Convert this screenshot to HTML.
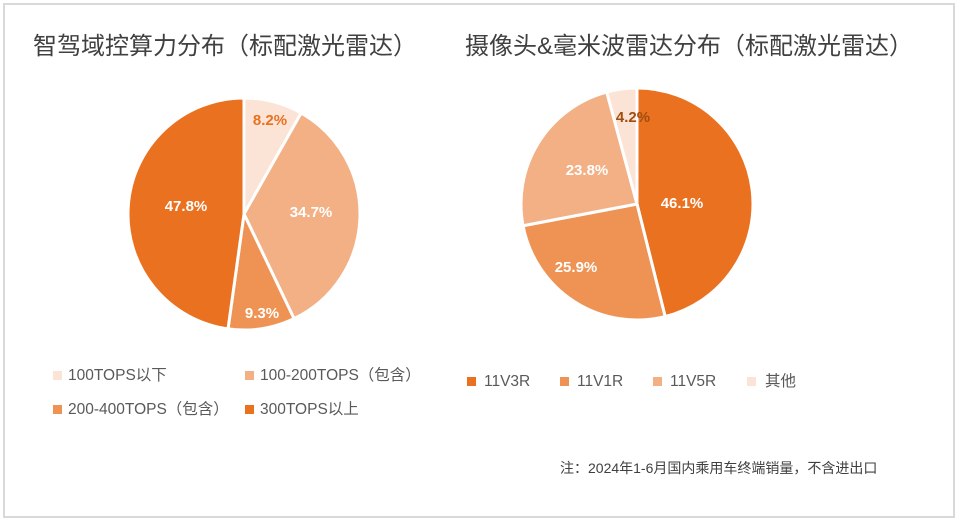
<!DOCTYPE html>
<html><head><meta charset="utf-8"><style>
body{margin:0;width:957px;height:520px;background:#fff;overflow:hidden;font-family:"Liberation Sans","Noto Sans CJK SC",sans-serif;}
#b{position:absolute;left:3px;top:3px;width:948px;height:511px;border:2px solid #d9d9d9;}
.t{position:absolute;font-size:24px;color:#404040;white-space:nowrap}
.l{position:absolute;font-size:15.5px;color:#595959;white-space:nowrap;line-height:18px}
.s{position:absolute;width:9px;height:9px}
</style></head><body>
<div id="b"></div>
<div class="t" style="left:33px;top:26px">智驾域控算力分布（标配激光雷达）</div>
<div class="t" style="left:465px;top:26px">摄像头&amp;毫米波雷达分布（标配激光雷达）</div>
<svg width="957" height="520" style="position:absolute;left:0;top:0" id="sv">
</svg>
<div class="s" style="left:53px;top:371px;background:#FBE4D6"></div><div class="l" style="left:68px;top:367px">100TOPS以下</div>
<div class="s" style="left:245px;top:371px;background:#F2B084"></div><div class="l" style="left:260px;top:367px">100-200TOPS（包含）</div>
<div class="s" style="left:53px;top:405px;background:#EE9354"></div><div class="l" style="left:68px;top:401px">200-400TOPS（包含）</div>
<div class="s" style="left:245px;top:405px;background:#E97120"></div><div class="l" style="left:260px;top:401px">300TOPS以上</div>
<div class="s" style="left:467px;top:377px;background:#E97120"></div><div class="l" style="left:484px;top:373px">11V3R</div>
<div class="s" style="left:560px;top:377px;background:#EE9354"></div><div class="l" style="left:577px;top:373px">11V1R</div>
<div class="s" style="left:653px;top:377px;background:#F2B084"></div><div class="l" style="left:670px;top:373px">11V5R</div>
<div class="s" style="left:747px;top:377px;background:#FBE4D6"></div><div class="l" style="left:765px;top:373px">其他</div>
<div class="l" style="left:560px;top:459px;font-size:14px;color:#404040">注：2024年1-6月国内乘用车终端销量，不含进出口</div>
<script>
function pie(cx,cy,r,data){var s=document.getElementById('sv'),a=0,h='';
data.forEach(function(d){var a1=a+d[0]/100*2*Math.PI;
var x0=cx+r*Math.sin(a),y0=cy-r*Math.cos(a),x1=cx+r*Math.sin(a1),y1=cy-r*Math.cos(a1);
h+='<path d="M'+cx+','+cy+'L'+x0+','+y0+'A'+r+','+r+' 0 '+((a1-a)>Math.PI?1:0)+' 1 '+x1+','+y1+'Z" fill="'+d[1]+'" stroke="#fff" stroke-width="3"/>';a=a1;});
data.forEach(function(d){h+='<text x="'+d[2]+'" y="'+d[3]+'" fill="'+d[4]+'" font-size="15" font-weight="bold" text-anchor="middle" font-family="Liberation Sans,sans-serif">'+d[0].toFixed(1)+'%</text>';});
s.innerHTML+=h;}
pie(244,214,116,[[8.2,'#FBE4D6',270,125,'#E97120'],[34.7,'#F2B084',311,217,'#fff'],[9.3,'#EE9354',262,318,'#fff'],[47.8,'#E97120',186,211,'#fff']]);
pie(637,204,116,[[46.1,'#E97120',682,208,'#fff'],[25.9,'#EE9354',576,272,'#fff'],[23.8,'#F2B084',587,175,'#fff'],[4.2,'#FBE4D6',633,122,'#A04E10']]);
</script>
</body></html>
